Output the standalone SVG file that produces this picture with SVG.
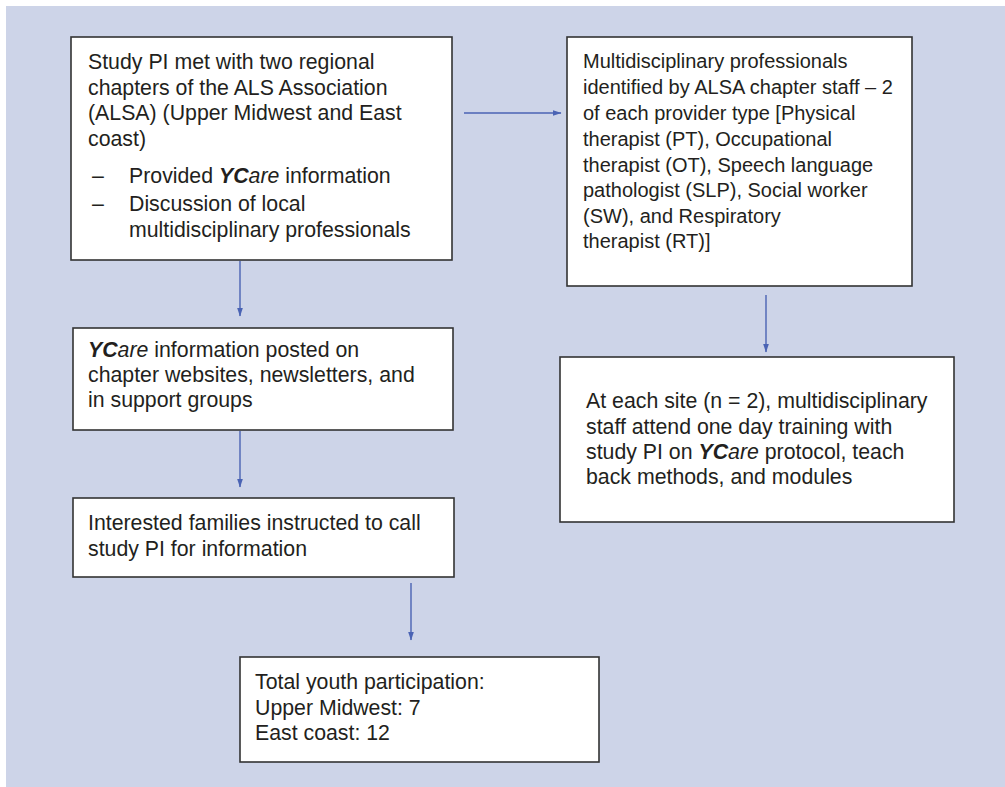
<svg xmlns="http://www.w3.org/2000/svg" width="1005" height="787" viewBox="0 0 1005 787">
<defs>
<marker id="ah" markerWidth="9" markerHeight="7" refX="8.5" refY="3.5" orient="auto" markerUnits="userSpaceOnUse">
<path d="M0,0.5 L9,3.5 L0,6.5 Z" fill="#4a63b4"/>
</marker>
<style>
.box{fill:#fff;stroke:#333;stroke-width:1.6}
.t{font-family:"Liberation Sans",Arial,sans-serif;font-size:21.3px;fill:#231f20}
.s{font-size:20px}
.bi{font-weight:bold;font-style:italic}
.i{font-style:italic}
.c{stroke:#4a63b4;stroke-width:1.4;fill:none;marker-end:url(#ah)}
</style>
</defs>
<rect x="0" y="0" width="1005" height="787" fill="#fff"/>
<rect x="6" y="6" width="999" height="781" fill="#cdd4e8"/>
<g id="connectors">
<line class="c" x1="464" y1="113" x2="561" y2="113"/>
<line class="c" x1="240" y1="261" x2="240" y2="316"/>
<line class="c" x1="240" y1="431" x2="240" y2="487"/>
<line class="c" x1="411" y1="583" x2="411" y2="640"/>
<line class="c" x1="766" y1="295" x2="766" y2="352"/>
</g>
<g id="n1">
<rect class="box" x="71" y="37" width="381" height="223"/>
<text class="t" x="88" y="69">Study PI met with two regional</text>
<text class="t" x="88" y="94.5">chapters of the ALS Association</text>
<text class="t" x="88" y="120">(ALSA) (Upper Midwest and East</text>
<text class="t" x="88" y="145.5">coast)</text>
<text class="t" x="92" y="183">–</text>
<text class="t" x="129" y="183">Provided <tspan class="bi">YC</tspan><tspan class="i">are</tspan> information</text>
<text class="t" x="92" y="210.5">–</text>
<text class="t" x="129" y="210.5">Discussion of local</text>
<text class="t" x="129" y="237">multidisciplinary professionals</text>
</g>
<g id="n2">
<rect class="box" x="567" y="37" width="345" height="249"/>
<text class="t s" x="583" y="68.3">Multidisciplinary professionals</text>
<text class="t s" x="583" y="94.3">identified by ALSA chapter staff – 2</text>
<text class="t s" x="583" y="120">of each provider type [Physical</text>
<text class="t s" x="583" y="145.8">therapist (PT), Occupational</text>
<text class="t s" x="583" y="171.6">therapist (OT), Speech language</text>
<text class="t s" x="583" y="197">pathologist (SLP), Social worker</text>
<text class="t s" x="583" y="222.7">(SW), and Respiratory</text>
<text class="t s" x="583" y="248.3">therapist (RT)]</text>
</g>
<g id="n3">
<rect class="box" x="73" y="328" width="380" height="102"/>
<text class="t" x="88" y="356.7"><tspan class="bi">YC</tspan><tspan class="i">are</tspan> information posted on</text>
<text class="t" x="88" y="382.3">chapter websites, newsletters, and</text>
<text class="t" x="88" y="406.7">in support groups</text>
</g>
<g id="n4">
<rect class="box" x="73" y="498" width="381" height="79"/>
<text class="t" x="88" y="530">Interested families instructed to call</text>
<text class="t" x="88" y="555.5">study PI for information</text>
</g>
<g id="n5">
<rect class="box" x="240" y="657" width="359" height="105"/>
<text class="t" x="255" y="688.7">Total youth participation:</text>
<text class="t" x="255" y="714.5">Upper Midwest: 7</text>
<text class="t" x="255" y="740">East coast: 12</text>
</g>
<g id="n6">
<rect class="box" x="560" y="357" width="394" height="165"/>
<text class="t" x="586" y="408.3">At each site (n = 2), multidisciplinary</text>
<text class="t" x="586" y="433.5">staff attend one day training with</text>
<text class="t" x="586" y="459">study PI on <tspan class="bi">YC</tspan><tspan class="i">are</tspan> protocol, teach</text>
<text class="t" x="586" y="484">back methods, and modules</text>
</g>
</svg>
